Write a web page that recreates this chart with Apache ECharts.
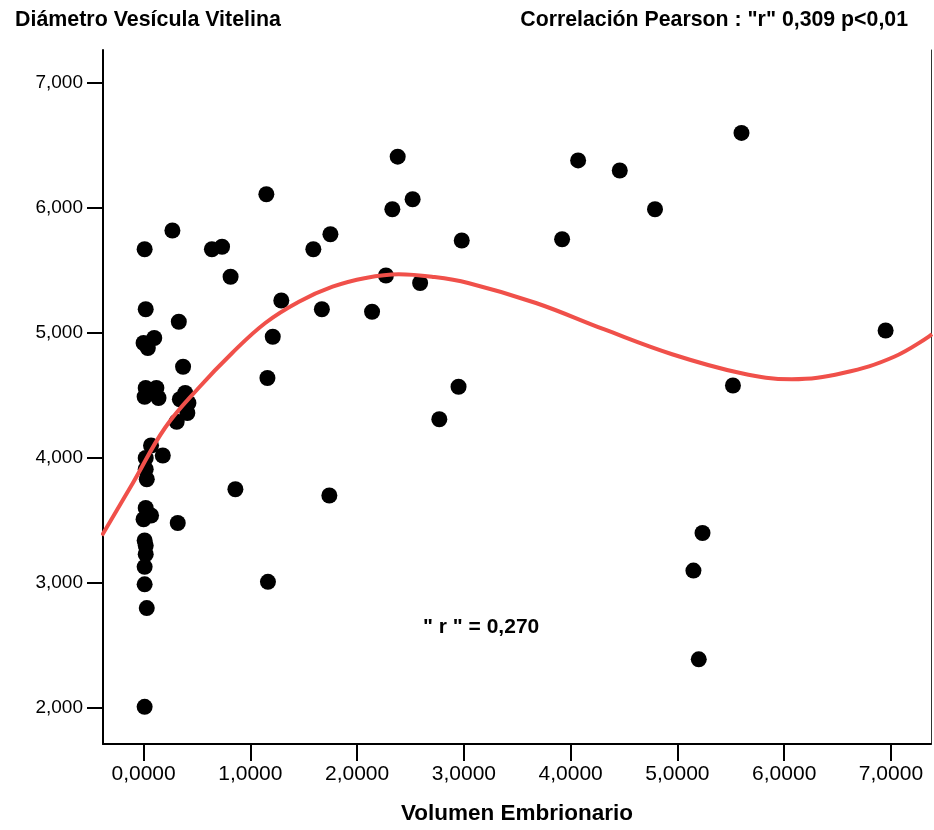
<!DOCTYPE html>
<html>
<head>
<meta charset="utf-8">
<script src="https://cdn.jsdelivr.net/npm/echarts@6/dist/echarts.min.js"></script>
<style>
  html, body { margin: 0; padding: 0; background: #ffffff; }
  #chart { width: 934px; height: 830px; }
</style>
</head>
<body>
<div id="chart"></div>
<script>
// Volumen embrionario (x) vs diámetro de la vesícula vitelina (y)
const volumen = [
  0.01, 0.02, 0.10, 0.00, 0.04, 0.02, 0.12, 0.01, 0.14, 0.07,
  0.02, 0.18, 0.02, 0.03, 0.02, 0.04, 0.00, 0.07, 0.01, 0.02,
  0.02, 0.01, 0.01, 0.03, 0.01,
  0.27, 0.33, 0.37, 0.39, 0.34, 0.42, 0.41, 0.31, 0.32,
  0.64, 0.735, 0.815, 0.86, 1.15, 1.29, 1.21, 1.16, 1.165,
  1.59, 1.75, 1.67, 1.74, 2.14, 2.27, 2.33, 2.38, 2.52, 2.59,
  2.77, 2.95, 2.98,
  3.92, 4.07, 4.46, 4.79, 5.60, 5.52, 5.235, 5.15, 5.20, 6.95
];
const diametro = [
  5.67, 5.19, 4.96, 4.92, 4.88, 4.56, 4.56, 4.49, 4.48, 4.10,
  4.00, 4.02, 3.91, 3.83, 3.60, 3.54, 3.51, 3.54, 3.34, 3.30,
  3.23, 3.13, 2.99, 2.80, 2.01,
  5.82, 5.09, 4.73, 4.52, 4.47, 4.44, 4.36, 4.29, 3.48,
  5.67, 5.69, 5.45, 3.75, 6.11, 5.26, 4.97, 4.64, 3.01,
  5.67, 5.79, 5.19, 3.70, 5.17, 5.46, 5.99, 6.41, 6.07, 5.40,
  4.31, 4.57, 5.74,
  5.75, 6.38, 6.30, 5.99, 6.60, 4.58, 3.40, 3.10, 2.39, 5.02
];

const ajusteX = [-0.39, -0.10, 0.20, 0.515, 0.83, 1.14, 1.455, 1.77, 2.08, 2.39,
                 2.70, 3.04, 3.675, 4.31, 4.95, 5.59, 6.07, 6.55, 7.03, 7.385];
const ajusteY = [3.38, 3.80, 4.24, 4.56, 4.84, 5.08, 5.25, 5.37, 5.44, 5.47,
                 5.45, 5.40, 5.24, 5.03, 4.83, 4.68, 4.63, 4.68, 4.81, 4.99];

// Marcas de los ejes
const xTicks = [0, 1, 2, 3, 4, 5, 6, 7];
const xTickLabels = ['0,0000', '1,0000', '2,0000', '3,0000', '4,0000', '5,0000', '6,0000', '7,0000'];
const yTicks = [2, 3, 4, 5, 6, 7];
const yTickLabels = ['2,000', '3,000', '4,000', '5,000', '6,000', '7,000'];

const puntos = volumen.map((v, i) => [v, diametro[i]]);
const curva = ajusteX.map((v, i) => [v, ajusteY[i]]);

const X_MIN = -0.38, X_MAX = 7.375;
const Y_MIN = 1.7125, Y_MAX = 7.2636;

const chart = echarts.init(document.getElementById('chart'), null, { renderer: 'canvas' });

const sans = '"Liberation Sans", Arial, sans-serif';

chart.setOption({
  animation: false,
  backgroundColor: '#ffffff',
  // plot frame: fixed width/height so the axes sit at the same pixels whatever the page height
  grid: { left: 103, top: 50, width: 828, height: 695, containLabel: false },
  title: [
    {
      text: 'Diámetro Vesícula Vitelina',
      left: 10, top: 5,
      textStyle: { fontFamily: sans, fontWeight: 'bold', fontSize: 21.4, color: '#000' }
    },
    {
      text: 'Correlación Pearson : "r" 0,309 p<0,01',
      right: 21, top: 5,
      textStyle: { fontFamily: sans, fontWeight: 'bold', fontSize: 21.3, color: '#000' }
    }
  ],
  xAxis: {
    type: 'value',
    min: X_MIN, max: X_MAX,
    name: 'Volumen Embrionario',
    nameLocation: 'middle',
    nameGap: 58,
    nameTextStyle: { fontFamily: sans, fontWeight: 'bold', fontSize: 22.5, color: '#000' },
    axisLine: { show: true, onZero: false, lineStyle: { color: '#000', width: 2 } },
    axisTick: { show: true, length: 17, lineStyle: { color: '#000', width: 2 }, customValues: xTicks },
    axisLabel: {
      show: true, margin: 20, color: '#000', fontFamily: sans, fontSize: 21,
      customValues: xTicks,
      formatter: v => xTickLabels[xTicks.indexOf(Math.round(v))]
    },
    splitLine: { show: false }
  },
  yAxis: [
    {
      type: 'value',
      min: Y_MIN, max: Y_MAX,
      axisLine: { show: true, onZero: false, lineStyle: { color: '#000', width: 2 } },
      axisTick: { show: true, length: 16, lineStyle: { color: '#000', width: 2 }, customValues: yTicks },
      axisLabel: {
        show: true, margin: 20, color: '#000', fontFamily: sans, fontSize: 19,
        customValues: yTicks,
        formatter: v => yTickLabels[yTicks.indexOf(Math.round(v))]
      },
      splitLine: { show: false }
    },
    {
      type: 'value',
      position: 'right',
      min: Y_MIN, max: Y_MAX,
      axisLine: { show: true, onZero: false, lineStyle: { color: '#333', width: 1 } },
      axisTick: { show: false },
      axisLabel: { show: false },
      splitLine: { show: false }
    }
  ],
  series: [
    {
      type: 'scatter',
      data: puntos,
      symbol: 'circle',
      symbolSize: 16,
      itemStyle: { color: '#000', opacity: 1 },
      z: 2
    },
    {
      type: 'line',
      data: curva,
      smooth: 0.4,
      showSymbol: false,
      lineStyle: { color: '#f0504a', width: 4 },
      z: 3
    }
  ],
  graphic: [
    {
      type: 'text',
      left: 423, top: 617,
      style: {
        text: '" r " = 0,270',
        font: 'bold 21px "Liberation Sans", Arial, sans-serif',
        fill: '#000'
      }
    }
  ]
});
</script>
</body>
</html>
